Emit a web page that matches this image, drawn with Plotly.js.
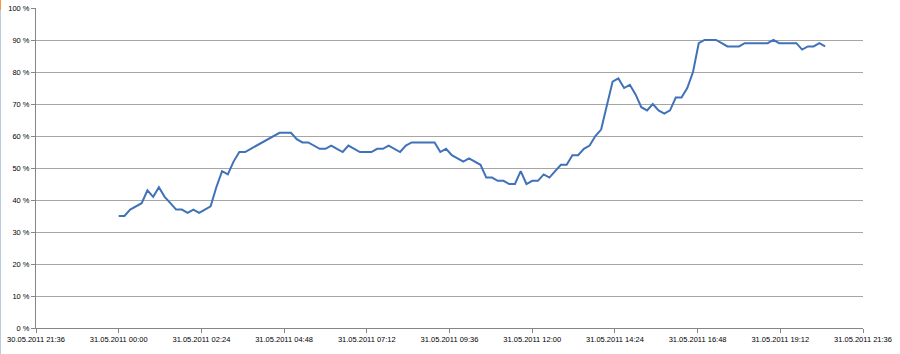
<!DOCTYPE html>
<html>
<head>
<meta charset="utf-8">
<script src="https://cdn.plot.ly/plotly-3.0.1.min.js"></script>
<style>
html,body{margin:0;padding:0;background:#fff;}
#chart{width:900px;height:354px;}
</style>
</head>
<body>
<div id="chart"></div>
<script>
// Time stamps (31.05.2011, every 10 minutes)
const times = [
 '2011-05-31 00:00','2011-05-31 00:10','2011-05-31 00:20','2011-05-31 00:30','2011-05-31 00:40','2011-05-31 00:50',
 '2011-05-31 01:00','2011-05-31 01:10','2011-05-31 01:20','2011-05-31 01:30','2011-05-31 01:40','2011-05-31 01:50',
 '2011-05-31 02:00','2011-05-31 02:10','2011-05-31 02:20','2011-05-31 02:30','2011-05-31 02:40','2011-05-31 02:50',
 '2011-05-31 03:00','2011-05-31 03:10','2011-05-31 03:20','2011-05-31 03:30','2011-05-31 03:40','2011-05-31 03:50',
 '2011-05-31 04:00','2011-05-31 04:10','2011-05-31 04:20','2011-05-31 04:30','2011-05-31 04:40','2011-05-31 04:50',
 '2011-05-31 05:00','2011-05-31 05:10','2011-05-31 05:20','2011-05-31 05:30','2011-05-31 05:40','2011-05-31 05:50',
 '2011-05-31 06:00','2011-05-31 06:10','2011-05-31 06:20','2011-05-31 06:30','2011-05-31 06:40','2011-05-31 06:50',
 '2011-05-31 07:00','2011-05-31 07:10','2011-05-31 07:20','2011-05-31 07:30','2011-05-31 07:40','2011-05-31 07:50',
 '2011-05-31 08:00','2011-05-31 08:10','2011-05-31 08:20','2011-05-31 08:30','2011-05-31 08:40','2011-05-31 08:50',
 '2011-05-31 09:00','2011-05-31 09:10','2011-05-31 09:20','2011-05-31 09:30','2011-05-31 09:40','2011-05-31 09:50',
 '2011-05-31 10:00','2011-05-31 10:10','2011-05-31 10:20','2011-05-31 10:30','2011-05-31 10:40','2011-05-31 10:50',
 '2011-05-31 11:00','2011-05-31 11:10','2011-05-31 11:20','2011-05-31 11:30','2011-05-31 11:40','2011-05-31 11:50',
 '2011-05-31 12:00','2011-05-31 12:10','2011-05-31 12:20','2011-05-31 12:30','2011-05-31 12:40','2011-05-31 12:50',
 '2011-05-31 13:00','2011-05-31 13:10','2011-05-31 13:20','2011-05-31 13:30','2011-05-31 13:40','2011-05-31 13:50',
 '2011-05-31 14:00','2011-05-31 14:10','2011-05-31 14:20','2011-05-31 14:30','2011-05-31 14:40','2011-05-31 14:50',
 '2011-05-31 15:00','2011-05-31 15:10','2011-05-31 15:20','2011-05-31 15:30','2011-05-31 15:40','2011-05-31 15:50',
 '2011-05-31 16:00','2011-05-31 16:10','2011-05-31 16:20','2011-05-31 16:30','2011-05-31 16:40','2011-05-31 16:50',
 '2011-05-31 17:00','2011-05-31 17:10','2011-05-31 17:20','2011-05-31 17:30','2011-05-31 17:40','2011-05-31 17:50',
 '2011-05-31 18:00','2011-05-31 18:10','2011-05-31 18:20','2011-05-31 18:30','2011-05-31 18:40','2011-05-31 18:50',
 '2011-05-31 19:00','2011-05-31 19:10','2011-05-31 19:20','2011-05-31 19:30','2011-05-31 19:40','2011-05-31 19:50',
 '2011-05-31 20:00','2011-05-31 20:10','2011-05-31 20:20','2011-05-31 20:30'
];

// Percent values
const values = [
 35,35,37,38,39,43,41,44,41,39,37,37,
 36,37,36,37,38,44,49,48,52,55,55,56,
 57,58,59,60,61,61,61,59,58,58,57,56,
 56,57,56,55,57,56,55,55,55,56,56,57,
 56,55,57,58,58,58,58,58,55,56,54,53,
 52,53,52,51,47,47,46,46,45,45,49,45,
 46,46,48,47,49,51,51,54,54,56,57,60,
 62,70,77,78,75,76,73,69,68,70,68,67,
 68,72,72,75,80,89,90,90,90,89,88,88,
 88,89,89,89,89,89,90,89,89,89,89,87,
 88,88,89,88
];

// Axis settings
const xStart = '2011-05-30 21:36';
const xEnd = '2011-05-31 21:36';
const yTickVals = [0,10,20,30,40,50,60,70,80,90,100];
const yTickText = ['0 %','10 %','20 %','30 %','40 %','50 %','60 %','70 %','80 %','90 %','100 %'];

const trace = {
  x: times,
  y: values,
  type: 'scatter',
  mode: 'lines',
  line: {color: '#3f72b8', width: 2},
  hoverinfo: 'x+y'
};

const tickFont = {family: 'Liberation Sans, Arial, sans-serif', size: 7.5, color: '#000'};

const layout = {
  width: 900,
  height: 354,
  margin: {l: 36, r: 37, t: 8, b: 26},
  paper_bgcolor: '#ffffff',
  plot_bgcolor: '#ffffff',
  showlegend: false,
  xaxis: {
    type: 'date',
    range: [xStart, xEnd],
    tick0: xStart,
    dtick: 8640000,
    tickformat: '%d.%m.%Y %H:%M',
    showgrid: false,
    zeroline: false,
    showline: true,
    linecolor: '#868686',
    linewidth: 1,
    ticks: 'outside',
    ticklen: 4,
    tickcolor: '#868686',
    tickfont: tickFont
  },
  yaxis: {
    range: [0, 100],
    tickmode: 'array',
    tickvals: yTickVals,
    ticktext: yTickText,
    showgrid: true,
    gridcolor: '#a6a6a6',
    gridwidth: 1,
    zeroline: false,
    showline: true,
    linecolor: '#868686',
    linewidth: 1,
    ticks: 'outside',
    ticklen: 4,
    tickcolor: '#868686',
    tickfont: tickFont
  },
  shapes: [
    {type: 'line', xref: 'paper', yref: 'paper', x0: -36/827, x1: -36/827, y0: -26/320, y1: 1 + 8/320 - 10/320,
     line: {color: '#b8cce4', width: 2}},
    {type: 'line', xref: 'paper', yref: 'paper', x0: -36/827, x1: -36/827, y0: 1 + 8/320 - 10/320, y1: 1 + 8/320,
     line: {color: '#f79646', width: 2}}
  ]
};

Plotly.newPlot('chart', [trace], layout, {displayModeBar: false, staticPlot: true});
</script>
</body>
</html>
